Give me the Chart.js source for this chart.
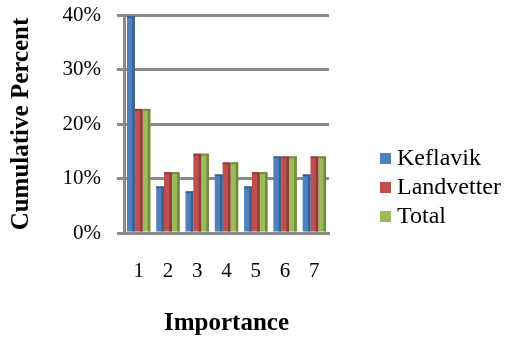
<!DOCTYPE html>
<html>
<head>
<meta charset="utf-8">
<script src="https://cdn.jsdelivr.net/npm/chart.js@4/dist/chart.umd.min.js"></script>
<style>
  html, body { margin: 0; padding: 0; background: #ffffff; }
  canvas { display: block; }
</style>
</head>
<body>
<canvas id="c" width="508" height="339"></canvas>
<script>
// Importance ratings (1-7), share of respondents per airport
const categories = ['1', '2', '3', '4', '5', '6', '7'];
const keflavik   = [39.6, 8.4, 7.5, 10.6, 8.4, 13.9, 10.6];
const landvetter = [22.6, 11.0, 14.4, 12.8, 11.0, 13.9, 13.9];
const total      = [22.6, 11.0, 14.4, 12.8, 11.0, 13.9, 13.9];
const yTicks     = [0, 10, 20, 30, 40];
const seriesNames  = ['Keflavik', 'Landvetter', 'Total'];
const seriesColors = ['#4F81BD', '#C0504D', '#9BBB59'];
const sideColors   = ['#395F8E', '#8F3D3A', '#71893F'];

const gridGrey = '#8a8a8a';
const serif = "'Liberation Serif', 'Times New Roman', serif";

// Darker right side and top edge so the columns read as solid blocks
const columnShading = {
  id: 'columnShading',
  afterDatasetsDraw(chart) {
    const ctx = chart.ctx;
    ctx.save();
    chart.data.datasets.forEach((ds, di) => {
      const meta = chart.getDatasetMeta(di);
      meta.data.forEach(el => {
        const p = el.getProps(['x', 'y', 'base', 'width'], true);
        const right = p.x + p.width / 2;
        const left = p.x - p.width / 2;
        ctx.fillStyle = sideColors[di];
        ctx.fillRect(right - 2.5, p.y, 2.5, p.base - p.y);
        ctx.fillRect(left, p.y - 1, p.width, 2);
      });
    });
    ctx.restore();
  }
};

// Legend block to the right of the plot
const sideLegend = {
  id: 'sideLegend',
  afterDraw(chart) {
    const ctx = chart.ctx;
    ctx.save();
    ctx.font = '24px ' + serif;
    ctx.textBaseline = 'middle';
    const rows = [158, 187, 216];
    chart.data.datasets.forEach((ds, i) => {
      const y = rows[i];
      ctx.fillStyle = seriesColors[i];
      ctx.fillRect(380, y - 5, 11, 11);
      ctx.fillStyle = '#000';
      ctx.fillText(ds.label, 397, y + 1);
    });
    ctx.restore();
  }
};

const seriesValues = [keflavik, landvetter, total];

new Chart(document.getElementById('c'), {
  type: 'bar',
  data: {
    labels: categories,
    datasets: seriesNames.map((name, i) => ({
      label: name,
      data: seriesValues[i],
      backgroundColor: seriesColors[i],
      borderWidth: 0,
      categoryPercentage: 0.8,
      barPercentage: 1.0
    }))
  },
  options: {
    responsive: false,
    animation: false,
    events: [],
    layout: { padding: { top: 15, right: 179, bottom: 0, left: 0 } },
    plugins: {
      legend: { display: false },
      tooltip: { enabled: false }
    },
    scales: {
      x: {
        grid: { display: false, drawTicks: false },
        border: { display: true, color: gridGrey, width: 3 },
        ticks: {
          color: '#000',
          font: { family: serif, size: 21 },
          padding: 26,
          maxRotation: 0
        },
        title: {
          display: true,
          text: 'Importance',
          color: '#000',
          font: { family: serif, size: 25, weight: 'bold' },
          padding: { top: 0, bottom: 0 }
        },
        afterFit(scale) {
          scale.height = 106;
          scale.paddingLeft = 0;
          scale.paddingRight = 0;
        }
      },
      y: {
        min: 0,
        max: 40,
        afterBuildTicks(scale) { scale.ticks = yTicks.map(v => ({ value: v })); },
        grid: { color: gridGrey, lineWidth: 3, drawTicks: true, tickLength: 7 },
        border: { display: true, color: gridGrey, width: 3 },
        ticks: {
          color: '#000',
          font: { family: serif, size: 21 },
          padding: 16,
          callback: v => v + '%'
        },
        title: {
          display: true,
          text: 'Cumulative Percent',
          color: '#000',
          font: { family: serif, size: 25, weight: 'bold' },
          padding: { top: 7, bottom: 0 }
        },
        afterFit(scale) {
          scale.width = 124;
          scale.paddingTop = 0;
          scale.paddingBottom = 0;
        }
      }
    }
  },
  plugins: [columnShading, sideLegend]
});
</script>
</body>
</html>
